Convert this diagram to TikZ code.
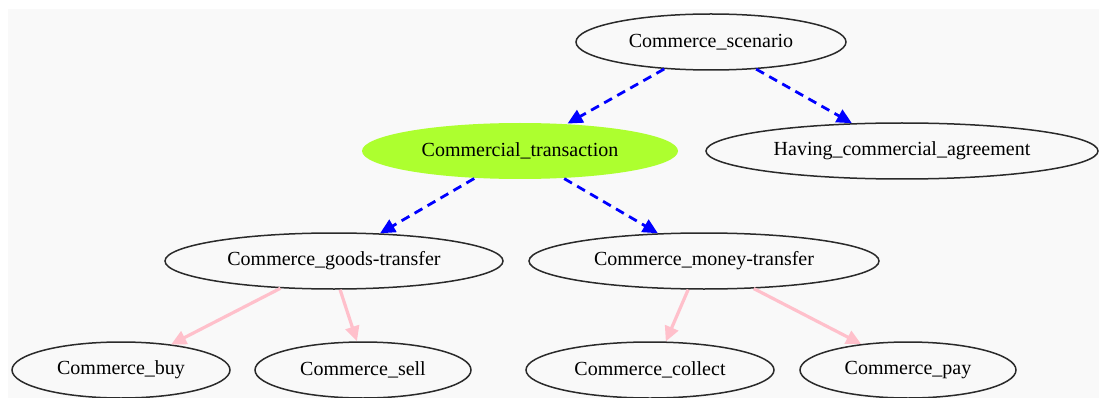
\documentclass[tikz,border=0pt]{standalone}
\usepackage{fontspec}
\setmainfont{Liberation Serif}
\usetikzlibrary{shapes.geometric,arrows.meta}
\definecolor{canvas}{HTML}{F9F9F9}
\definecolor{rim}{HTML}{2A2A2A}
\definecolor{lime}{HTML}{ADFF2F}
\definecolor{rose}{HTML}{FFC0CB}
\begin{document}
\begin{tikzpicture}[x=1pt,y=-1pt,
  frame/.style={ellipse,draw=rim,line width=1.5pt,inner sep=0pt,minimum height=56pt,
    font=\fontsize{20}{24}\selectfont,text=black},
  hot/.style={frame,draw=none,fill=lime},
  scheme/.style={draw=blue,line width=2.8pt,dash pattern=on 9pt off 6pt,
    -{Triangle[length=15pt,width=14pt]}},
  member/.style={draw=rose,line width=3.2pt,-{Triangle[length=15pt,width=14pt]}}]
  \useasboundingbox (0,0) rectangle (1099,398);
  \fill[canvas] (8,9) rectangle (1099,398);

  % nodes
  \node[frame,minimum width=270pt] (scen) at (711,42) {Commerce\_scenario};
  \node[hot,minimum width=316pt] (trans) at (520,151) {Commercial\_transaction};
  \node[frame,minimum width=392pt] (agree) at (902,151) {Having\_commercial\_agreement};
  \node[frame,minimum width=338pt] (goods) at (334,261) {Commerce\_goods-transfer};
  \node[frame,minimum width=350pt] (money) at (704,261) {Commerce\_money-transfer};
  \node[frame,minimum width=218pt] (buy) at (121,370) {Commerce\_buy};
  \node[frame,minimum width=216pt] (sell) at (363,370) {Commerce\_sell};
  \node[frame,minimum width=248pt] (collect) at (650,370) {Commerce\_collect};
  \node[frame,minimum width=216pt] (pay) at (908,370) {Commerce\_pay};

  % inheritance-like links
  \draw[scheme] (scen.210.8) -- (trans.30.4);
  \draw[scheme] (scen.329.2) -- (agree.151);
  \draw[scheme] (trans.211.3) -- (goods.31.9);
  \draw[scheme] (trans.328.7) -- (money.149);

  % perspective links
  \draw[member] (goods.207.4) -- (buy.27.5);
  \draw[member] (goods.282) -- (sell.102.5);
  \draw[member] (money.241.8) -- (collect.61.8);
  \draw[member] (money.331.7) -- (pay.151);
\end{tikzpicture}
\end{document}
